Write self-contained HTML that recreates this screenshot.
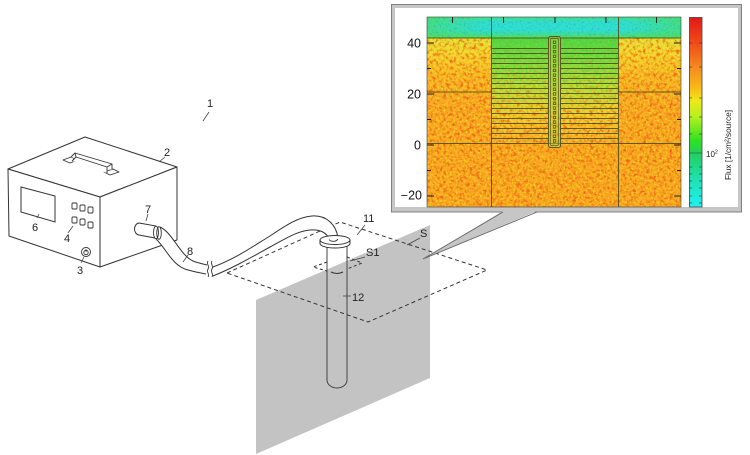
<!DOCTYPE html>
<html><head><meta charset="utf-8"><style>
html,body{margin:0;padding:0;background:#fff;}
body{width:750px;height:455px;overflow:hidden;}
svg{display:block;}
.lb{font-family:"Liberation Sans Narrow","Liberation Sans",sans-serif;font-size:11px;fill:#222;}
</style></head><body>
<svg width="750" height="455" viewBox="0 0 750 455" xmlns="http://www.w3.org/2000/svg">
<defs>
<linearGradient id="gSide" x1="0" y1="0" x2="0" y2="1">
<stop offset="0" stop-color="#dce43c"/><stop offset="0.15" stop-color="#f0d830"/><stop offset="0.35" stop-color="#f4b826"/><stop offset="0.6" stop-color="#f5aa24"/><stop offset="1" stop-color="#f6a822"/>
</linearGradient>
<linearGradient id="gMid" x1="0" y1="0" x2="0" y2="1">
<stop offset="0" stop-color="#50d848"/><stop offset="0.2" stop-color="#7cdc40"/><stop offset="0.45" stop-color="#bce038"/><stop offset="0.7" stop-color="#ecd030"/><stop offset="1" stop-color="#f4ae26"/>
</linearGradient>
<linearGradient id="gTop" x1="0" y1="0" x2="0" y2="1">
<stop offset="0" stop-color="#48e088"/><stop offset="0.25" stop-color="#30e0c8"/><stop offset="0.6" stop-color="#30e0d0"/><stop offset="0.85" stop-color="#40e090"/><stop offset="1" stop-color="#60e040"/>
</linearGradient>
<linearGradient id="gTopSide" x1="0" y1="0" x2="1" y2="0">
<stop offset="0" stop-color="#50e050" stop-opacity="0.6"/><stop offset="0.22" stop-color="#50e050" stop-opacity="0"/><stop offset="0.78" stop-color="#50e050" stop-opacity="0"/><stop offset="1" stop-color="#50e050" stop-opacity="0.6"/>
</linearGradient>
<linearGradient id="gBar" x1="0" y1="0" x2="0" y2="1">
<stop offset="0" stop-color="#e01818"/><stop offset="0.13" stop-color="#f04818"/><stop offset="0.26" stop-color="#f48820"/><stop offset="0.37" stop-color="#f8b818"/><stop offset="0.44" stop-color="#f0e818"/><stop offset="0.53" stop-color="#b0f020"/><stop offset="0.65" stop-color="#30e020"/><stop offset="0.72" stop-color="#20d060"/><stop offset="0.85" stop-color="#20e0b0"/><stop offset="1" stop-color="#20f0f0"/>
</linearGradient>
<linearGradient id="gmTop" gradientUnits="userSpaceOnUse" x1="0" y1="38" x2="0" y2="145">
<stop offset="0" stop-color="#fff"/><stop offset="0.3" stop-color="#fff"/><stop offset="0.75" stop-color="#000"/><stop offset="1" stop-color="#000"/>
</linearGradient>
<linearGradient id="gmBot" gradientUnits="userSpaceOnUse" x1="0" y1="38" x2="0" y2="145">
<stop offset="0" stop-color="#333"/><stop offset="0.3" stop-color="#555"/><stop offset="0.75" stop-color="#fff"/><stop offset="1" stop-color="#fff"/>
</linearGradient>
<mask id="mTop" maskUnits="userSpaceOnUse" x="427" y="17" width="254" height="190">
<rect x="491" y="38" width="127" height="107" fill="url(#gmTop)"/>
</mask>
<mask id="mBot" maskUnits="userSpaceOnUse" x="427" y="17" width="254" height="190">
<rect x="491" y="38" width="127" height="107" fill="url(#gmBot)"/>
<rect x="491" y="145" width="127" height="62" fill="#fff"/>
</mask>
<filter id="fr" x="0" y="0" width="1" height="1" color-interpolation-filters="sRGB">
<feTurbulence type="fractalNoise" baseFrequency="0.3" numOctaves="3" seed="7"/>
<feColorMatrix type="matrix" values="0 0 0 0 0.94  0 0 0 0 0.3  0 0 0 0 0.08  3 0 0 0 -1.35"/>
</filter>
<filter id="fy" x="0" y="0" width="1" height="1" color-interpolation-filters="sRGB">
<feTurbulence type="fractalNoise" baseFrequency="0.5" numOctaves="2" seed="3"/>
<feColorMatrix type="matrix" values="0 0 0 0 0.98  0 0 0 0 0.9  0 0 0 0 0.12  3 0 0 0 -1.4"/>
</filter>
<filter id="fg" x="0" y="0" width="1" height="1" color-interpolation-filters="sRGB">
<feTurbulence type="fractalNoise" baseFrequency="0.5" numOctaves="2" seed="11"/>
<feColorMatrix type="matrix" values="0 0 0 0 0.2  0 0 0 0 0.85  0 0 0 0 0.2  3 0 0 0 -1.4"/>
</filter>
<filter id="fb" x="0" y="0" width="1" height="1" color-interpolation-filters="sRGB">
<feTurbulence type="fractalNoise" baseFrequency="0.5" numOctaves="2" seed="5"/>
<feColorMatrix type="matrix" values="0 0 0 0 0.15  0 0 0 0 0.55  0 0 0 0 0.9  2.4 0 0 0 -1.2"/>
</filter>
<pattern id="st" patternUnits="userSpaceOnUse" width="10" height="5"><rect x="0" y="3" width="10" height="1" fill="#4a4a1a" fill-opacity="0.85"/></pattern>
<clipPath id="pc"><rect x="427" y="17" width="254" height="190"/></clipPath>
</defs>

<!-- ===== Gray plane ===== -->
<polygon points="256,300 430,225 430,378 256,454" fill="#c3c3c3"/>

<!-- dashed parallelogram S -->
<polygon points="227,273 340,222 487,270 368,322" fill="none" stroke="#333" stroke-width="1" stroke-dasharray="4 3"/>

<!-- ===== Device box ===== -->
<g fill="#fff" stroke="#333" stroke-width="1" stroke-linejoin="round">
<polygon points="8,169 85,137 177,167 100,197"/>
<polygon points="8,169 100,197 100,267 9,236"/>
<polygon points="100,197 177,167 177,240 100,267"/>
</g>
<!-- handle -->
<g fill="#fff" stroke="#333" stroke-width="0.9" stroke-linejoin="round">
<polygon points="63,160 71,157 78,160 70,163"/>
<polygon points="104,172 113,169 119,172 110,175"/>
<path d="M71,157 L75,153 L112,164 L112,170 M72,161 L76,157 L107,167 L107,173"/>
<path d="M75,153 L76,157 M112,164 L107,167"/>
</g>
<!-- screen -->
<polygon points="21,187 55,196 55,222 21,212" fill="#fff" stroke="#333" stroke-width="1"/>
<!-- buttons -->
<g fill="#fff" stroke="#333" stroke-width="0.9">
<rect x="72" y="203" width="5" height="6" rx="1"/><rect x="80" y="205" width="5" height="6" rx="1"/><rect x="88" y="207" width="5" height="6" rx="1"/>
<rect x="72" y="217" width="5" height="6" rx="1"/><rect x="80" y="219" width="5" height="6" rx="1"/><rect x="88" y="222" width="5" height="6" rx="1"/>
<circle cx="86" cy="252" r="4.5"/><circle cx="86" cy="252.5" r="2.2"/>
</g>
<line x1="86" y1="249" x2="86" y2="252" stroke="#333" stroke-width="0.8"/>

<!-- connector 7 -->
<path d="M139,223 L156,226 L155,238 L139,235 C133,234 133,224 139,223 Z" fill="#fff" stroke="#333" stroke-width="1"/>

<!-- hose part 1 -->
<path d="M160,227 C172,232 180,255 193,261 C198,263 203,264 207,265 L206,274 C200,273 195,272 188,270 C172,266 166,248 156,239 Z" fill="#fff"/>
<path d="M160,227 C172,232 180,255 193,261 C198,263 203,264 207,265 M156,239 C166,248 172,266 188,270 C195,272 200,273 206,274" fill="none" stroke="#333" stroke-width="1"/>
<ellipse cx="156" cy="232.5" rx="2.5" ry="6.3" fill="#fff" stroke="#333" stroke-width="0.9"/>
<ellipse cx="159" cy="233" rx="2.3" ry="6.3" fill="none" stroke="#333" stroke-width="0.9"/>
<!-- break marks -->
<path d="M208,261 c-2,3 2,5 0,8 c-2,3 2,5 0,8 M212,261 c-2,3 2,5 0,8 c-2,3 2,5 0,8" fill="none" stroke="#333" stroke-width="0.9"/>

<!-- hose part 2 -->
<path d="M213,267 C235,259 252,247 270,236 C285,226 298,217 312,216 C326,215 336,224 338,238 L329,239 C327,233 320,229 310,230 C297,231 285,239 270,247 C252,257 235,267 213,276 Z" fill="#fff"/>
<path d="M213,267 C235,259 252,247 270,236 C285,226 298,217 312,216 C326,215 336,224 338,238 M329,239 C327,233 320,229 310,230 C297,231 285,239 270,247 C252,257 235,267 213,276" fill="none" stroke="#333" stroke-width="1"/>

<!-- tube 12 -->
<path d="M327,246 L327,380 A10,8 0 0 0 347,380 L347,246" fill="none" stroke="#444" stroke-width="1"/>
<!-- flange 11 -->
<path d="M320,240 L320,243.5 A15,4.5 0 0 0 350,243.5 L350,240" fill="#fff" stroke="#333" stroke-width="1"/>
<ellipse cx="335" cy="240" rx="15" ry="4.5" fill="#fff" stroke="#333" stroke-width="1"/>
<path d="M329,239.5 C331,242 336,242 338,239" fill="#fff" stroke="#333" stroke-width="0.9"/>

<!-- S1 dashed -->
<polyline points="327,262 313,267 327,271" fill="none" stroke="#333" stroke-width="1" stroke-dasharray="3 2.5"/>
<polyline points="347,257 362,263 347,269" fill="none" stroke="#333" stroke-width="1" stroke-dasharray="3 2.5"/>
<path d="M331,272 Q337,275 343,272" fill="none" stroke="#333" stroke-width="1"/>

<!-- leaders -->
<g stroke="#444" stroke-width="0.8" fill="none">
<line x1="209" y1="112" x2="203" y2="121"/>
<line x1="165" y1="157" x2="159" y2="162"/>
<line x1="37" y1="218" x2="39" y2="214"/>
<line x1="68" y1="233" x2="73" y2="226"/>
<line x1="81" y1="263" x2="84" y2="257"/>
<line x1="148" y1="214" x2="146" y2="221"/>
<line x1="188" y1="255" x2="183" y2="262"/>
<line x1="365" y1="225" x2="357" y2="235"/>
<line x1="365" y1="257" x2="350" y2="261"/>
<line x1="343" y1="296" x2="351" y2="296"/>
<line x1="420" y1="238" x2="407" y2="245"/>
</g>

<!-- labels -->
<g class="lb">
<text x="207" y="107">1</text>
<text x="164" y="156">2</text>
<text x="77" y="274">3</text>
<text x="64" y="242">4</text>
<text x="32" y="231">6</text>
<text x="145" y="213">7</text>
<text x="187" y="255">8</text>
<text x="363" y="222">11</text>
<text x="352" y="301">12</text>
<text x="366" y="256">S1</text>
<text x="420" y="237">S</text>
</g>

<!-- ===== Callout frame ===== -->
<rect x="391.5" y="4.5" width="350" height="207.5" fill="#c6c6c6" stroke="#808080" stroke-width="1"/>
<rect x="395" y="8" width="343" height="199" fill="#fff"/>
<!-- tail -->
<polygon points="503,211 537,211 423,259" fill="#c6c6c6"/>
<path d="M503,212 L423,259 L537,212" fill="none" stroke="#666" stroke-width="0.9"/>

<!-- heatmap -->
<g clip-path="url(#pc)">
<rect x="427" y="17" width="254" height="190" fill="#f6a822"/>
<rect x="427" y="38" width="254" height="107" fill="url(#gSide)"/>
<rect x="491" y="38" width="127" height="107" fill="url(#gMid)"/>
<rect x="427" y="17" width="254" height="21" fill="url(#gTop)"/>
<rect x="427" y="17" width="254" height="21" fill="url(#gTopSide)"/>
<!-- red / yellow speckle on sides -->
<rect x="427" y="38" width="64" height="169" filter="url(#fr)" opacity="0.85"/>
<rect x="618" y="38" width="63" height="169" filter="url(#fr)" opacity="0.85"/>
<rect x="427" y="38" width="64" height="169" filter="url(#fy)" opacity="0.75"/>
<rect x="618" y="38" width="63" height="169" filter="url(#fy)" opacity="0.75"/>
<!-- middle: red/yellow fading in downward -->
<g mask="url(#mBot)">
<rect x="491" y="38" width="127" height="169" filter="url(#fr)" opacity="0.85"/>
<rect x="491" y="38" width="127" height="169" filter="url(#fy)" opacity="0.75"/>
</g>
<!-- middle: green fading out downward -->
<g mask="url(#mTop)">
<rect x="491" y="38" width="127" height="107" filter="url(#fg)" opacity="0.75"/>
</g>
<rect x="427" y="17" width="254" height="21" filter="url(#fb)" opacity="0.55"/>
<!-- grid -->
<g stroke="#4a4a1a" stroke-width="1" stroke-opacity="0.85">
<line x1="427" y1="38" x2="681" y2="38"/>
<line x1="427" y1="92" x2="491" y2="92"/>
<line x1="618" y1="92" x2="681" y2="92"/>
<line x1="427" y1="143.5" x2="681" y2="143.5"/>
<line x1="491.5" y1="17" x2="491.5" y2="207"/>
<line x1="618.5" y1="17" x2="618.5" y2="207"/>
</g>
<rect x="492" y="46" width="56" height="95" fill="url(#st)"/>
<rect x="561" y="46" width="57" height="95" fill="url(#st)"/>
<!-- tube -->
<rect x="548.5" y="36.5" width="12" height="111" rx="2" fill="#b8d840" fill-opacity="0.45" stroke="#5a5a20" stroke-width="1"/>
<rect x="550.5" y="38.5" width="8" height="107" rx="1.5" fill="none" stroke="#5a5a20" stroke-width="0.7"/>
<g fill="none" stroke="#4a4a1a" stroke-width="0.7">
<rect x="553.3" y="41" width="2.5" height="2.5"/><rect x="553.3" y="45.7" width="2.5" height="2.5"/><rect x="553.3" y="50.4" width="2.5" height="2.5"/><rect x="553.3" y="55.1" width="2.5" height="2.5"/><rect x="553.3" y="59.8" width="2.5" height="2.5"/><rect x="553.3" y="64.5" width="2.5" height="2.5"/><rect x="553.3" y="69.2" width="2.5" height="2.5"/><rect x="553.3" y="73.9" width="2.5" height="2.5"/><rect x="553.3" y="78.6" width="2.5" height="2.5"/><rect x="553.3" y="83.3" width="2.5" height="2.5"/><rect x="553.3" y="88" width="2.5" height="2.5"/><rect x="553.3" y="92.7" width="2.5" height="2.5"/><rect x="553.3" y="97.4" width="2.5" height="2.5"/><rect x="553.3" y="102.1" width="2.5" height="2.5"/><rect x="553.3" y="106.8" width="2.5" height="2.5"/><rect x="553.3" y="111.5" width="2.5" height="2.5"/><rect x="553.3" y="116.2" width="2.5" height="2.5"/><rect x="553.3" y="120.9" width="2.5" height="2.5"/><rect x="553.3" y="125.6" width="2.5" height="2.5"/><rect x="553.3" y="130.3" width="2.5" height="2.5"/><rect x="553.3" y="135" width="2.5" height="2.5"/><rect x="553.3" y="139.7" width="2.5" height="2.5"/>
</g>
<!-- ticks -->
<g stroke="#222" stroke-width="1">
<path d="M452.5,17v6M503.5,17v6M555,17v6M606,17v6M656.5,17v6"/>
<path d="M427,43h7M427,68.5h4M427,94h7M427,119.5h4M427,145h7M427,170.5h4M427,196h7"/>
<path d="M681,43h-7M681,68.5h-4M681,94h-7M681,119.5h-4M681,145h-7M681,170.5h-4M681,196h-7"/>
</g>
</g>
<rect x="427" y="17" width="254" height="190" fill="none" stroke="#333" stroke-width="0.8" stroke-opacity="0.7"/>

<!-- y labels -->
<g font-family="'Liberation Sans',sans-serif" font-size="12.5" fill="#111" text-anchor="end">
<text x="421" y="47.5">40</text>
<text x="421" y="98.5">20</text>
<text x="421" y="149.5">0</text>
<text x="422" y="199.5">−20</text>
</g>

<!-- colorbar -->
<rect x="689" y="17" width="13" height="190" fill="url(#gBar)"/>
<rect x="689.5" y="17.5" width="12.5" height="189.5" fill="none" stroke="#555" stroke-width="0.9"/>
<g stroke="#333" stroke-width="0.8" stroke-opacity="0.8">
<path d="M689,43h3M702,43h-3M689,67h3M702,67h-3M689,98h3M702,98h-3M689,117h3M702,117h-3M689,134h3M702,134h-3M689,167h3M702,167h-3M689,174h3M702,174h-3M689,181h3M702,181h-3M689,188h3M702,188h-3M689,196h3M702,196h-3M689,203h3M702,203h-3"/>
<path d="M689,153h13" stroke-opacity="0.6"/>
</g>
<text x="706" y="157" font-family="'Liberation Sans',sans-serif" font-size="8" fill="#222">10<tspan font-size="5.5" dy="-3.5">2</tspan></text>
<text transform="translate(731,145) rotate(-90)" text-anchor="middle" font-family="'Liberation Sans',sans-serif" font-size="8.5" fill="#222" textLength="70" lengthAdjust="spacingAndGlyphs">Flux [1/cm²/source]</text>
</svg>
</body></html>
